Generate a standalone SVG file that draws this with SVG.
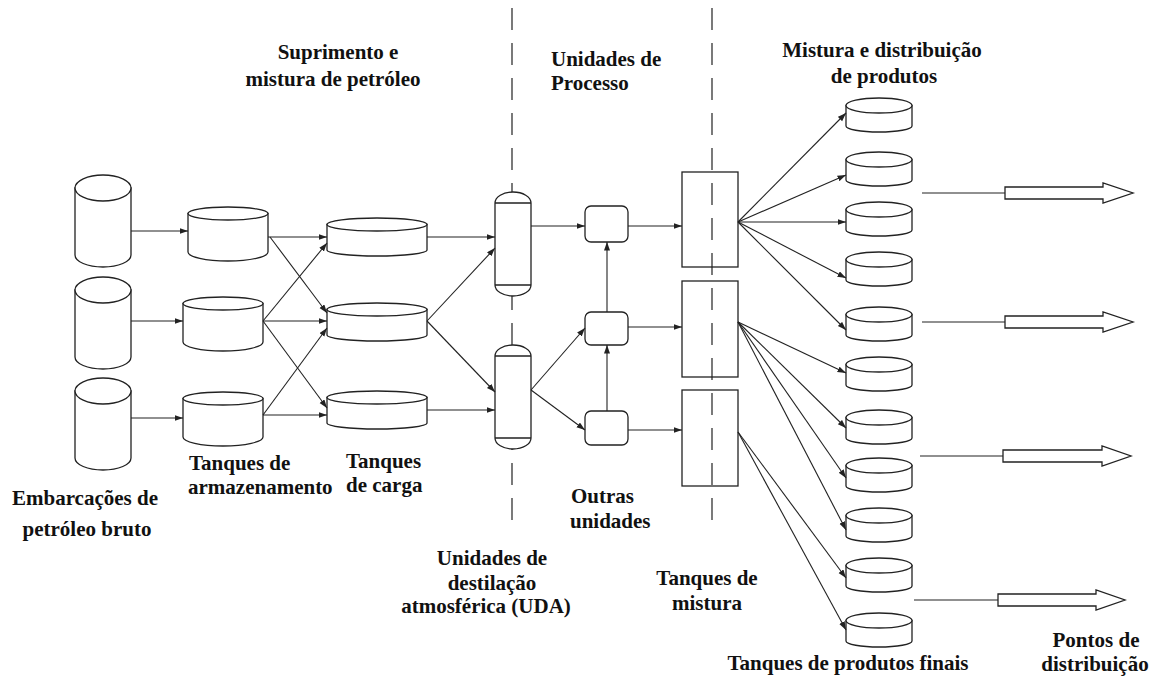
<svg xmlns="http://www.w3.org/2000/svg" width="1153" height="678" viewBox="0 0 1153 678">
<style>
.s{fill:#fff;stroke:#222;stroke-width:1.3}
.n{fill:none;stroke:#222;stroke-width:1.3}
.c{fill:none;stroke:#222;stroke-width:1.1;marker-end:url(#ah)}
.l{fill:none;stroke:#222;stroke-width:1.1}
.d{fill:none;stroke:#333;stroke-width:1.3;stroke-dasharray:22 13}
.t{font-family:"Liberation Serif","Times New Roman",serif;font-weight:bold;font-size:21px;fill:#111}
.m{text-anchor:middle}
</style>
<defs>
<marker id="ah" markerUnits="userSpaceOnUse" markerWidth="9" markerHeight="7" refX="8.5" refY="3" orient="auto">
<path d="M0,0 L8.5,3 L0,6 z" fill="#222"/>
</marker>
<g id="cyl">
<path class="s" d="M0,13 V80 A28 12 0 0 0 56,80 V13 Z"/>
<ellipse class="s" cx="28" cy="13" rx="28" ry="13"/>
</g>
<g id="st">
<path class="s" d="M0,6.5 V45 A40 9 0 0 0 80,45 V6.5 Z"/>
<ellipse class="s" cx="40" cy="6.5" rx="40" ry="6.5"/>
</g>
<g id="ct">
<path class="s" d="M0,6.5 V32 A50 6 0 0 0 100,32 V6.5 Z"/>
<ellipse class="s" cx="50" cy="6.5" rx="50" ry="6.5"/>
</g>
<g id="pt">
<path class="s" d="M0,7.5 V28 A33 6 0 0 0 66,28 V7.5 Z"/>
<ellipse class="s" cx="33" cy="7.5" rx="33" ry="7.5"/>
</g>
<g id="col">
<path class="s" d="M0,11 A18 11 0 0 1 36,11 V93 A18 11 0 0 1 0,93 Z"/>
<path class="n" d="M0,11 H36 M0,93 H36"/>
</g>
</defs>

<g id="separators">
<line class="d" x1="512" y1="8" x2="512" y2="522"/>
<line class="d" x1="712" y1="8" x2="712" y2="532"/>
</g>

<g id="crude-vessels">
<use id="cv1" href="#cyl" x="75" y="175"/>
<use id="cv2" href="#cyl" x="75" y="277"/>
<use id="cv3" href="#cyl" x="75" y="378"/>
</g>
<g id="storage-tanks">
<use id="st1" href="#st" x="188" y="207"/>
<use id="st2" href="#st" x="183" y="297"/>
<use id="st3" href="#st" x="183" y="392"/>
</g>
<g id="charge-tanks">
<use id="ct1" href="#ct" x="327" y="218"/>
<use id="ct2" href="#ct" x="327" y="303"/>
<use id="ct3" href="#ct" x="327" y="391"/>
</g>
<g id="cdu">
<use id="cdu1" href="#col" x="495" y="192"/>
<use id="cdu2" href="#col" x="495" y="345"/>
</g>
<g id="other-units">
<rect id="ou1" class="s" x="585" y="206" width="43" height="36" rx="6"/>
<rect id="ou2" class="s" x="585" y="312" width="43" height="33" rx="6"/>
<rect id="ou3" class="s" x="585" y="411" width="43" height="34" rx="6"/>
</g>
<g id="blend-tanks">
<rect id="bt1" class="n" x="682" y="172" width="56" height="95"/>
<rect id="bt2" class="n" x="682" y="281" width="56" height="96"/>
<rect id="bt3" class="n" x="682" y="390" width="56" height="96"/>
</g>
<g id="product-tanks">
<use id="p1" href="#pt" x="846" y="98"/>
<use id="p2" href="#pt" x="846" y="152"/>
<use id="p3" href="#pt" x="846" y="202"/>
<use id="p4" href="#pt" x="846" y="252"/>
<use id="p5" href="#pt" x="846" y="307"/>
<use id="p6" href="#pt" x="846" y="357"/>
<use id="p7" href="#pt" x="846" y="410"/>
<use id="p8" href="#pt" x="846" y="458"/>
<use id="p9" href="#pt" x="846" y="508"/>
<use id="p10" href="#pt" x="846" y="558"/>
<use id="p11" href="#pt" x="846" y="613"/>
</g>

<g id="connectors">
<path class="c" d="M131,231 H188"/>
<path class="c" d="M131,321 H183"/>
<path class="c" d="M131,418 H183"/>
<path class="c" d="M268,237 H327"/>
<path class="c" d="M270,237 L327,313"/>
<path class="c" d="M263,321 L327,243"/>
<path class="c" d="M263,321 H327"/>
<path class="c" d="M263,321 L327,408"/>
<path class="c" d="M263,415 L327,328"/>
<path class="c" d="M263,415 H327"/>
<path class="c" d="M427,237 H495"/>
<path class="c" d="M427,321 L495,248"/>
<path class="c" d="M427,321 L495,392"/>
<path class="c" d="M427,410 H495"/>
<path class="c" d="M531,226 H585"/>
<path class="c" d="M531,390 L585,328"/>
<path class="c" d="M531,390 L585,430"/>
<path class="c" d="M607,411 V345"/>
<path class="c" d="M607,312 V242"/>
<path class="c" d="M628,226 H682"/>
<path class="c" d="M628,327 H682"/>
<path class="c" d="M628,430 H682"/>
<path class="c" d="M738,222 L846,113"/>
<path class="c" d="M738,222 L846,175"/>
<path class="c" d="M738,222 L846,222"/>
<path class="c" d="M738,222 L846,278"/>
<path class="c" d="M738,222 L846,330"/>
<path class="c" d="M738,322 L846,373"/>
<path class="c" d="M738,322 L846,428"/>
<path class="c" d="M738,322 L846,478"/>
<path class="c" d="M738,322 L846,530"/>
<path class="c" d="M738,432 L846,578"/>
<path class="c" d="M738,432 L846,630"/>
<path class="l" d="M922,193 H1005 M922,322 H1005 M920,456 H1003 M914,600 H998"/>
<path class="s" d="M1005,187 H1103 V183 L1133,193 L1103,203 V199 H1005 Z"/>
<path class="s" d="M1005,316 H1103 V312 L1133,322 L1103,332 V328 H1005 Z"/>
<path class="s" d="M1003,450 H1102 V446 L1131,456 L1102,466 V462 H1003 Z"/>
<path class="s" d="M998,594 H1096 V590 L1125,600 L1096,610 V606 H998 Z"/>
</g>

<g id="labels">
<text class="t m" x="338" y="59">Suprimento e</text>
<text class="t m" x="333" y="86">mistura de petróleo</text>
<text class="t" x="551" y="66">Unidades de</text>
<text class="t" x="551" y="90">Processo</text>
<text class="t m" x="882" y="57">Mistura e distribuição</text>
<text class="t m" x="884" y="83">de produtos</text>
<text class="t" x="189" y="470">Tanques de</text>
<text class="t" x="188" y="494">armazenamento</text>
<text class="t" x="346" y="468">Tanques</text>
<text class="t" x="346" y="492">de carga</text>
<text class="t m" x="85" y="505">Embarcações de</text>
<text class="t m" x="87" y="536">petróleo bruto</text>
<text class="t" x="571" y="503">Outras</text>
<text class="t" x="570" y="528">unidades</text>
<text class="t m" x="492" y="565">Unidades de</text>
<text class="t m" x="492" y="590">destilação</text>
<text class="t m" x="486" y="613">atmosférica (UDA)</text>
<text class="t m" x="707" y="585">Tanques de</text>
<text class="t m" x="707" y="610">mistura</text>
<text class="t m" x="848" y="670">Tanques de produtos finais</text>
<text class="t m" x="1096" y="647">Pontos de</text>
<text class="t m" x="1095" y="671">distribuição</text>
</g>
</svg>
